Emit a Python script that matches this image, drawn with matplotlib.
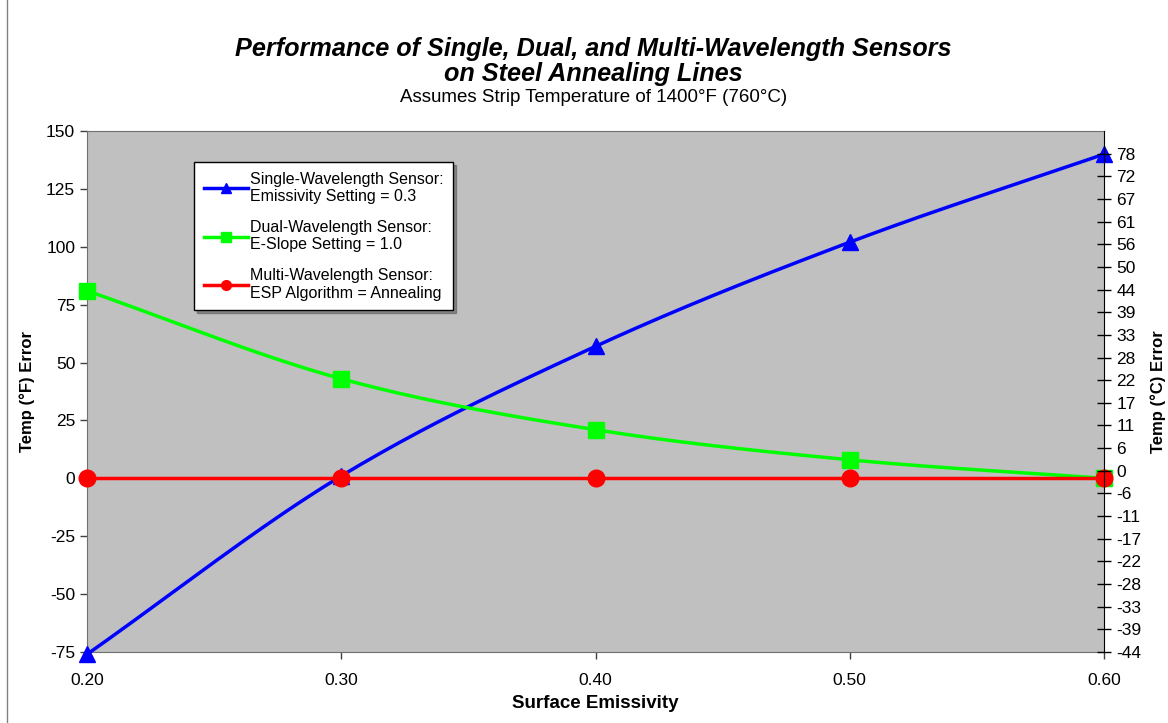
import matplotlib.pyplot as plt
import numpy as np
from matplotlib.ticker import FixedLocator, FixedFormatter
from matplotlib.lines import Line2D

plt.rcParams['font.family'] = ['Liberation Sans', 'DejaVu Sans']
plt.rcParams['axes.unicode_minus'] = False

# surface emissivity and temperature error (deg F) for each sensor type
emissivity = [0.20, 0.30, 0.40, 0.50, 0.60]
single_err = [-76, 1, 57, 102, 140]
dual_err = [81, 43, 21, 8, 0]
multi_err = [0, 0, 0, 0, 0]

labels = ['Single-Wavelength Sensor:\nEmissivity Setting = 0.3',
          'Dual-Wavelength Sensor:\nE-Slope Setting = 1.0',
          'Multi-Wavelength Sensor:\nESP Algorithm = Annealing']

# secondary axis in deg C, one tick for every 10 deg F
c_min, c_max = -80 * 5 / 9, 150 * 5 / 9
c_ticks = [c_min + k * 50 / 9 for k in range(23)]
c_labels = ['%d' % round(v) for v in c_ticks]


def smooth(x, y, n=40):
    # Catmull-Rom style smoothing through the points (like a spreadsheet "smoothed line")
    p = np.column_stack([x, y]).astype(float)
    p = np.vstack([2 * p[0] - p[1], p, 2 * p[-1] - p[-2]])
    out = []
    t = np.linspace(0, 1, n)[:, None]
    for i in range(1, len(p) - 2):
        p0, p1, p2, p3 = p[i - 1], p[i], p[i + 1], p[i + 2]
        seg = 0.5 * ((2 * p1) + (-p0 + p2) * t + (2 * p0 - 5 * p1 + 4 * p2 - p3) * t ** 2
                     + (-p0 + 3 * p1 - 3 * p2 + p3) * t ** 3)
        out.append(seg if i == 1 else seg[1:])
    out = np.vstack(out)
    return out[:, 0], out[:, 1]


fig = plt.figure(figsize=(11.68, 7.23), dpi=100)
ax = fig.add_axes([87 / 1168, 71 / 723, 1017 / 1168, 521 / 723])
ax.set_facecolor('#C0C0C0')

series = [(single_err, 'blue', '^', 12), (dual_err, '#00FF00', 's', 11), (multi_err, 'red', 'o', 12)]
handles = []
for (vals, col, mk, ms), lab in zip(series, labels):
    sx, sy = smooth(emissivity, vals)
    ax.plot(sx, sy, color=col, lw=2.5, zorder=3, clip_on=False)
    ax.plot(emissivity, vals, ls='none', marker=mk, ms=ms, color=col, zorder=4, clip_on=False)
    handles.append(Line2D([], [], color=col, lw=2.5, marker=mk, ms=7))

ax.set_xlim(0.2, 0.6)
ax.set_ylim(-75, 150)
ax.set_xticks(emissivity)
ax.set_xticklabels(['%.2f' % v for v in emissivity])
ax.set_yticks(range(-75, 151, 25))
ax.tick_params(axis='both', labelsize=12.5, length=5, width=1, color='#404040')
ax.tick_params(axis='x', pad=10)
for s in ['left', 'bottom', 'top']:
    ax.spines[s].set_color('#707070')
ax.spines['right'].set_visible(False)
ax.set_xlabel('Surface Emissivity', fontsize=13.5, fontweight='bold', labelpad=5)
ax.set_ylabel('Temp (°F) Error', fontsize=12, fontweight='bold', labelpad=8)

ax2 = ax.twinx()
ax2.set_ylim(c_min, c_max)
ax2.yaxis.set_major_locator(FixedLocator(c_ticks))
ax2.yaxis.set_major_formatter(FixedFormatter(c_labels))
ax2.tick_params(axis='y', labelsize=12.5, direction='inout', length=10, width=1, color='black', pad=4)
for s in ['left', 'bottom', 'top']:
    ax2.spines[s].set_visible(False)
ax2.spines['right'].set_color('black')
ax2.set_ylabel('Temp (°C) Error', fontsize=12, fontweight='bold', rotation=90, labelpad=6)

leg = ax.legend(handles, labels, loc='upper left', bbox_to_anchor=(107 / 1017, 1 - 31 / 521),
                fontsize=11.5, frameon=True, fancybox=False, shadow=True, handlelength=2.8,
                handletextpad=0.1, labelspacing=1.0, borderpad=0.6, borderaxespad=0)
leg.get_frame().set_edgecolor('black')
leg.get_frame().set_linewidth(1)
leg.set_zorder(10)

fig.text(0.5082, 0.9325, 'Performance of Single, Dual, and Multi-Wavelength Sensors',
         ha='center', va='center', fontsize=18.2, fontweight='bold', style='italic')
fig.text(0.5082, 0.898, 'on Steel Annealing Lines',
         ha='center', va='center', fontsize=18.2, fontweight='bold', style='italic')
fig.text(0.5082, 0.865, 'Assumes Strip Temperature of 1400°F (760°C)',
         ha='center', va='center', fontsize=13.5)

fig.add_artist(Line2D([7 / 1168, 7 / 1168], [0, 1], color='#808080', lw=1))

plt.savefig('out.png', dpi=100)
